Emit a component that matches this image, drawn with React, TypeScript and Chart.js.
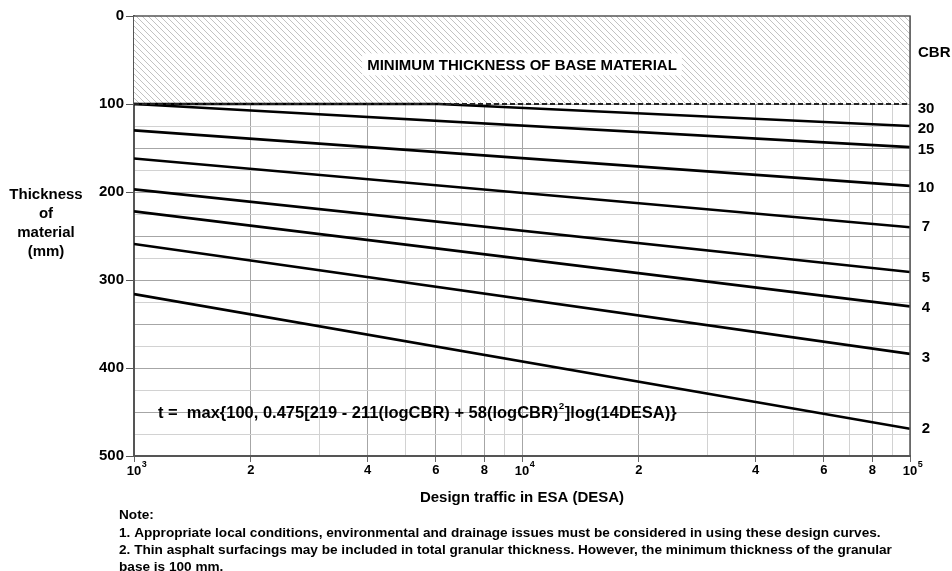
import React, { useEffect, useRef } from 'react';
import { Chart, registerables } from 'chart.js';

Chart.register(...registerables);

// ---------- data ----------
const desaEnds = [1000, 100000];
const cbr2 = [316, 469];
const cbr3 = [259, 384];
const cbr4 = [222, 330];
const cbr5 = [197, 291];
const cbr7 = [162, 240];
const cbr10 = [130, 193];
const cbr15 = [100, 149];
const cbr20Desa = [1000, 6100, 100000];
const cbr20 = [100, 100, 125];
const cbr30 = [100, 100];

const cbrLabels = ['30', '20', '15', '10', '7', '5', '4', '3', '2'];
const cbrLabelPos = [105, 128, 152, 195, 240, 297, 332, 389, 469];
const yTickStep = 100;
const xGridMultipliers = [1, 2, 3, 4, 5, 6, 7, 8, 9];
const xTickDigits = [2, 4, 6, 8];
const decadeExponents = [3, 4, 5];
const minThickness = 100;

const yTitleLines = ['Thickness', 'of', 'material', '(mm)'];
const xTitle = 'Design traffic in ESA (DESA)';
const hatchLabel = 'MINIMUM THICKNESS OF BASE MATERIAL';
const formulaParts = ['t =  max{100, 0.475[219 - 211(logCBR) + 58(logCBR)', '2', ']log(14DESA)}'];
const noteLines = [
  'Note:',
  '1. Appropriate local conditions, environmental and drainage issues must be considered in using these design curves.',
  '2. Thin asphalt surfacings may be included in total granular thickness. However, the minimum thickness of the granular',
  'base is 100 mm.',
];

const FONT = '"Liberation Sans", Arial, Helvetica, sans-serif';

const seriesList = [
  { label: 'CBR 30', xs: desaEnds, ys: cbr30, dashed: true },
  { label: 'CBR 2', xs: desaEnds, ys: cbr2 },
  { label: 'CBR 3', xs: desaEnds, ys: cbr3 },
  { label: 'CBR 4', xs: desaEnds, ys: cbr4 },
  { label: 'CBR 5', xs: desaEnds, ys: cbr5 },
  { label: 'CBR 7', xs: desaEnds, ys: cbr7 },
  { label: 'CBR 10', xs: desaEnds, ys: cbr10 },
  { label: 'CBR 15', xs: desaEnds, ys: cbr15 },
  { label: 'CBR 20', xs: cbr20Desa, ys: cbr20 },
];

function leadDigit(v: number) {
  const e = Math.floor(Math.log10(v) + 1e-9);
  return Math.round(v / Math.pow(10, e));
}

function makeHatch() {
  const s = 6;
  const c = document.createElement('canvas');
  c.width = s;
  c.height = s;
  const g = c.getContext('2d')!;
  g.fillStyle = '#ffffff';
  g.fillRect(0, 0, s, s);
  g.strokeStyle = '#c2c2c2';
  g.lineWidth = 1;
  g.beginPath();
  g.moveTo(0, 0); g.lineTo(s, s);
  g.moveTo(-1, s - 1); g.lineTo(1, s + 1);
  g.moveTo(s - 1, -1); g.lineTo(s + 1, 1);
  g.stroke();
  return c;
}

const overlay = {
  id: 'overlay',
  beforeDatasetsDraw(chart: any) {
    const { ctx, chartArea: a, scales } = chart;
    const x = scales.x, y = scales.y;
    const y100 = y.getPixelForValue(minThickness);
    ctx.save();
    const pat = ctx.createPattern(makeHatch(), 'repeat');
    ctx.fillStyle = pat;
    ctx.fillRect(a.left, a.top, a.right - a.left, y100 - a.top);
    ctx.font = `bold 15px ${FONT}`;
    const w = ctx.measureText(hatchLabel).width;
    const cx = x.getPixelForValue(10000);
    const cy = y.getPixelForValue(55);
    ctx.fillStyle = '#ffffff';
    ctx.fillRect(cx - w / 2 - 5, cy - 11, w + 10, 22);
    ctx.fillStyle = '#000';
    ctx.textAlign = 'center';
    ctx.textBaseline = 'middle';
    ctx.fillText(hatchLabel, cx, cy + 1);
    ctx.restore();
  },
  afterDraw(chart: any) {
    const { ctx, chartArea: a, scales } = chart;
    const x = scales.x, y = scales.y;
    ctx.save();
    // top & right border
    ctx.strokeStyle = '#555';
    ctx.lineWidth = 1.5;
    ctx.beginPath();
    ctx.moveTo(a.left, a.top);
    ctx.lineTo(a.right, a.top);
    ctx.lineTo(a.right, a.bottom);
    ctx.stroke();

    ctx.fillStyle = '#000';
    // CBR labels
    ctx.font = `bold 15px ${FONT}`;
    ctx.textBaseline = 'middle';
    ctx.textAlign = 'left';
    ctx.fillText('CBR', a.right + 8, 53);
    ctx.textAlign = 'center';
    cbrLabels.forEach((t, i) => {
      ctx.fillText(t, a.right + 16, y.getPixelForValue(cbrLabelPos[i]));
    });

    // decade labels with superscript
    decadeExponents.forEach((e) => {
      const px = x.getPixelForValue(Math.pow(10, e));
      ctx.font = `bold 13px ${FONT}`;
      ctx.textAlign = 'center';
      ctx.fillText('10', px, 471);
      const w = ctx.measureText('10').width;
      ctx.font = `bold 9px ${FONT}`;
      ctx.textAlign = 'left';
      ctx.fillText(String(e), px + w / 2 + 0.5, 465);
    });

    // y title
    ctx.font = `bold 15px ${FONT}`;
    ctx.textAlign = 'center';
    const yl = [195, 214, 233, 252];
    yTitleLines.forEach((t, i) => ctx.fillText(t, 46, yl[i]));

    // x title
    ctx.fillText(xTitle, (a.left + a.right) / 2, 498);

    // formula
    const base = 16;
    ctx.font = `bold ${base}px ${FONT}`;
    const w1 = ctx.measureText(formulaParts[0]).width;
    const w3 = ctx.measureText(formulaParts[2]).width;
    ctx.font = `bold ${base * 0.6}px ${FONT}`;
    const w2 = ctx.measureText(formulaParts[1]).width;
    const k = 519 / (w1 + w2 + w3 + 1);
    const fs = base * k;
    let fx = 158;
    const fy = 413;
    ctx.textAlign = 'left';
    ctx.font = `bold ${fs}px ${FONT}`;
    ctx.fillText(formulaParts[0], fx, fy);
    fx += ctx.measureText(formulaParts[0]).width + 0.5;
    ctx.font = `bold ${fs * 0.6}px ${FONT}`;
    ctx.fillText(formulaParts[1], fx, fy - fs * 0.38);
    fx += ctx.measureText(formulaParts[1]).width + 0.5;
    ctx.font = `bold ${fs}px ${FONT}`;
    ctx.fillText(formulaParts[2], fx, fy);

    // notes
    ctx.font = `bold 13px ${FONT}`;
    const nw = ctx.measureText(noteLines[2]).width;
    const ns = 13 * 774 / nw;
    ctx.font = `bold ${ns}px ${FONT}`;
    const ny = [515, 533, 550, 567];
    noteLines.forEach((t, i) => ctx.fillText(t, 119, ny[i]));
    ctx.restore();
  },
};

export default function App() {
  const ref = useRef<HTMLCanvasElement | null>(null);
  useEffect(() => {
    if (!ref.current) return;
    const chart = new Chart(ref.current, {
      type: 'line',
      data: {
        datasets: seriesList.map((s) => ({
          label: s.label,
          data: s.xs.map((xv, i) => ({ x: xv, y: s.ys[i] })),
          borderColor: s.dashed ? '#222' : '#000',
          borderWidth: s.dashed ? 2 : 2.6,
          borderDash: s.dashed ? [5, 3] : [],
          pointRadius: 0,
          tension: 0,
          fill: false,
        })),
      },
      options: {
        animation: false,
        responsive: true,
        maintainAspectRatio: false,
        devicePixelRatio: 1,
        layout: { padding: { left: 0, right: 42, top: 16, bottom: 0 } },
        plugins: { legend: { display: false }, tooltip: { enabled: false }, title: { display: false } },
        font: { family: FONT },
        scales: {
          x: {
            type: 'logarithmic',
            min: 1000,
            max: 100000,
            afterFit: (s: any) => { s.height = 115; },
            afterBuildTicks: (s: any) => {
              const t: any[] = [];
              decadeExponents.forEach((e) => {
                if (e === decadeExponents[decadeExponents.length - 1]) {
                  t.push({ value: Math.pow(10, e) });
                } else {
                  xGridMultipliers.forEach((m) => t.push({ value: m * Math.pow(10, e) }));
                }
              });
              s.ticks = t;
            },
            border: { color: '#555', width: 2 },
            grid: {
              color: (c: any) => {
                const d = leadDigit(c.tick.value);
                return d === 1 || xTickDigits.includes(d) ? '#a6a6a6' : '#d2d2d2';
              },
              tickColor: (c: any) => {
                const d = leadDigit(c.tick.value);
                return d === 1 || xTickDigits.includes(d) ? '#666' : 'rgba(0,0,0,0)';
              },
              tickLength: 6,
              lineWidth: 1,
            },
            ticks: {
              autoSkip: false,
              maxRotation: 0,
              padding: 1,
              color: '#000',
              font: { family: FONT, size: 13, weight: 'bold' },
              callback: (v: any) => {
                const d = leadDigit(Number(v));
                return xTickDigits.includes(d) ? String(d) : '';
              },
            },
          },
          y: {
            type: 'linear',
            reverse: true,
            min: 0,
            max: 500,
            afterFit: (s: any) => { s.width = 134; },
            border: { color: '#555', width: 2 },
            grid: {
              color: (c: any) => (c.tick.value % 50 === 0 ? '#a6a6a6' : '#d2d2d2'),
              tickColor: (c: any) => (c.tick.value % yTickStep === 0 ? '#555' : 'rgba(0,0,0,0)'),
              tickLength: 8,
              lineWidth: 1,
            },
            ticks: {
              stepSize: 25,
              padding: 2,
              color: '#000',
              font: { family: FONT, size: 15, weight: 'bold' },
              callback: (v: any) => (Number(v) % yTickStep === 0 ? String(v) : ''),
            },
          },
        },
      },
      plugins: [overlay],
    } as any);
    return () => chart.destroy();
  }, []);
  return (
    <div style={{ position: 'absolute', left: 0, top: 0, width: 952, height: 571, background: '#fff' }}>
      <canvas ref={ref} />
    </div>
  );
}
